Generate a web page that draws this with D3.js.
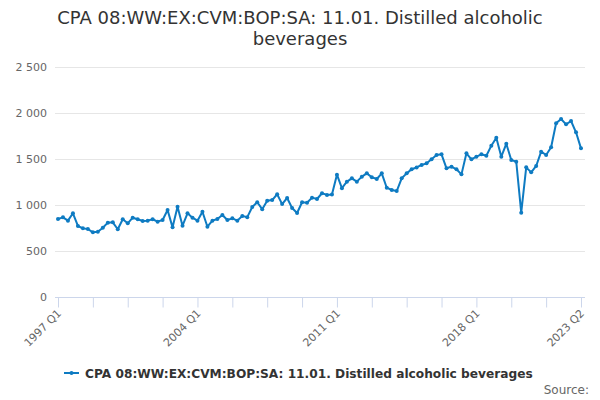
<!DOCTYPE html>
<html>
<head>
<meta charset="utf-8">
<script src="https://cdn.jsdelivr.net/npm/d3@7"></script>
<style>
  body { margin: 0; background: #fff; }
  text { font-family: "DejaVu Sans", sans-serif; }
</style>
</head>
<body>
<div id="chart"></div>
<script>
const width = 600;
const height = 400;
const margin = { top: 67, right: 19, bottom: 103, left: 58 };

const titleText = 'CPA 08:WW:EX:CVM:BOP:SA: 11.01. Distilled alcoholic beverages';
const seriesName = 'CPA 08:WW:EX:CVM:BOP:SA: 11.01. Distilled alcoholic beverages';

const startYear = 1997;
const quarters = d3.range(106).map((i) => (startYear + Math.floor(i / 4)) + ' Q' + (i % 4 + 1));

const values = [
  848, 866, 830, 910, 772, 746, 739, 703, 710, 753, 808, 812, 736, 845, 801, 862,
  845, 826, 830, 845, 819, 837, 946, 757, 982, 775, 910, 862, 830, 927, 764, 830,
  848, 891, 837, 855, 830, 880, 868, 978, 1030, 955, 1047, 1054, 1117, 1010, 1076, 967,
  913, 1030, 1025, 1080, 1065, 1128, 1110, 1115, 1330, 1183, 1254, 1290, 1254, 1308, 1344, 1301,
  1283, 1344, 1188, 1163, 1152, 1290, 1344, 1388, 1408, 1435, 1453, 1497, 1543, 1551, 1399, 1417,
  1388, 1333, 1562, 1497, 1525, 1551, 1536, 1645, 1732, 1525, 1665, 1489, 1471, 917, 1409, 1355,
  1424, 1580, 1543, 1627, 1888, 1935, 1877, 1913, 1790, 1616
];

const yTicks = [0, 500, 1000, 1500, 2000, 2500];
const xTickIdx = d3.range(0, 106, 7);
const xLabelIdx = [0, 28, 56, 84, 105];

const plotH = 297 - margin.top;

const x_scale = d3.scaleLinear()
  .domain([0, quarters.length - 1])
  .range([0, 523]);
const y_scale = d3.scaleLinear()
  .domain([0, 2500])
  .range([plotH, 0]);

const fmt = d3.formatLocale({ decimal: '.', thousands: '\u00a0', grouping: [3], currency: ['', ''] }).format(',');

const svg = d3.select('#chart').append('svg')
  .attr('width', width)
  .attr('height', height);

// title, wrapped in two lines
const title = svg.append('text')
  .attr('x', 300)
  .attr('y', 24)
  .attr('text-anchor', 'middle')
  .attr('fill', '#333333')
  .style('font-size', '18px');
const words = titleText.split(' ');
let line = [];
let tspan = title.append('tspan').attr('x', 300).attr('dy', 0);
words.forEach((w) => {
  line.push(w);
  tspan.text(line.join(' '));
  if (tspan.node().getComputedTextLength() > 520 && line.length > 1) {
    line.pop();
    tspan.text(line.join(' '));
    line = [w];
    tspan = title.append('tspan').attr('x', 300).attr('dy', 21).text(w);
  }
});

const g = svg.append('g')
  .attr('transform', 'translate(' + margin.left + ',' + margin.top + ')');

// grid
g.append('g')
  .selectAll('line')
  .data(yTicks.filter((d) => d > 0))
  .enter().append('line')
  .attr('x1', -3)
  .attr('x2', 527)
  .attr('y1', (d) => y_scale(d) + 0.5)
  .attr('y2', (d) => y_scale(d) + 0.5)
  .attr('stroke', '#e6e6e6');

// y axis
const yAxis = g.append('g')
  .call(d3.axisLeft(y_scale).tickValues(yTicks).tickSize(0).tickPadding(11).tickFormat(fmt));
yAxis.select('.domain').remove();
yAxis.selectAll('text')
  .attr('fill', '#666666')
  .style('font-size', '11px');

// x axis
const xAxis = g.append('g')
  .attr('transform', 'translate(0,' + (plotH + 0.5) + ')')
  .call(d3.axisBottom(x_scale).tickValues(xTickIdx).tickSize(10).tickSizeOuter(0)
    .tickFormat((d) => ''));
xAxis.select('.domain')
  .attr('d', 'M-3,0H527')
  .attr('stroke', '#ccd6eb');
xAxis.selectAll('.tick line').attr('stroke', '#ccd6eb');

g.append('g')
  .selectAll('text')
  .data(xLabelIdx)
  .enter().append('text')
  .attr('transform', (d) => 'translate(' + (x_scale(d) + 4) + ',' + (plotH + 17) + ') rotate(-45)')
  .attr('text-anchor', 'end')
  .attr('fill', '#666666')
  .style('font-size', '11px')
  .text((d) => quarters[d]);

// series
const path = d3.line()
  .x((d, i) => x_scale(i))
  .y((d) => y_scale(d));

const color = '#0e7bc2';

g.append('path')
  .datum(values)
  .attr('d', path)
  .attr('fill', 'none')
  .attr('stroke', color)
  .attr('stroke-width', 2)
  .attr('stroke-linejoin', 'round');

g.selectAll('.dot')
  .data(values)
  .enter().append('circle')
  .attr('class', 'dot')
  .attr('r', 2)
  .attr('fill', color)
  .attr('cx', (d, i) => x_scale(i))
  .attr('cy', (d) => y_scale(d));

// legend
const legend = svg.append('g')
  .attr('transform', 'translate(64,373)');
legend.append('line')
  .attr('x1', 0).attr('x2', 15)
  .attr('y1', 0).attr('y2', 0)
  .attr('stroke', color)
  .attr('stroke-width', 2);
legend.append('circle')
  .attr('cx', 7.5).attr('cy', 0).attr('r', 2)
  .attr('fill', color);
legend.append('text')
  .attr('x', 21)
  .attr('y', 4.5)
  .attr('fill', '#333333')
  .style('font-size', '12.2px')
  .style('font-weight', 'bold')
  .text(seriesName);

svg.append('text')
  .attr('x', 589)
  .attr('y', 394)
  .attr('text-anchor', 'end')
  .attr('fill', '#666666')
  .style('font-size', '12px')
  .text('Source:');
</script>
</body>
</html>
